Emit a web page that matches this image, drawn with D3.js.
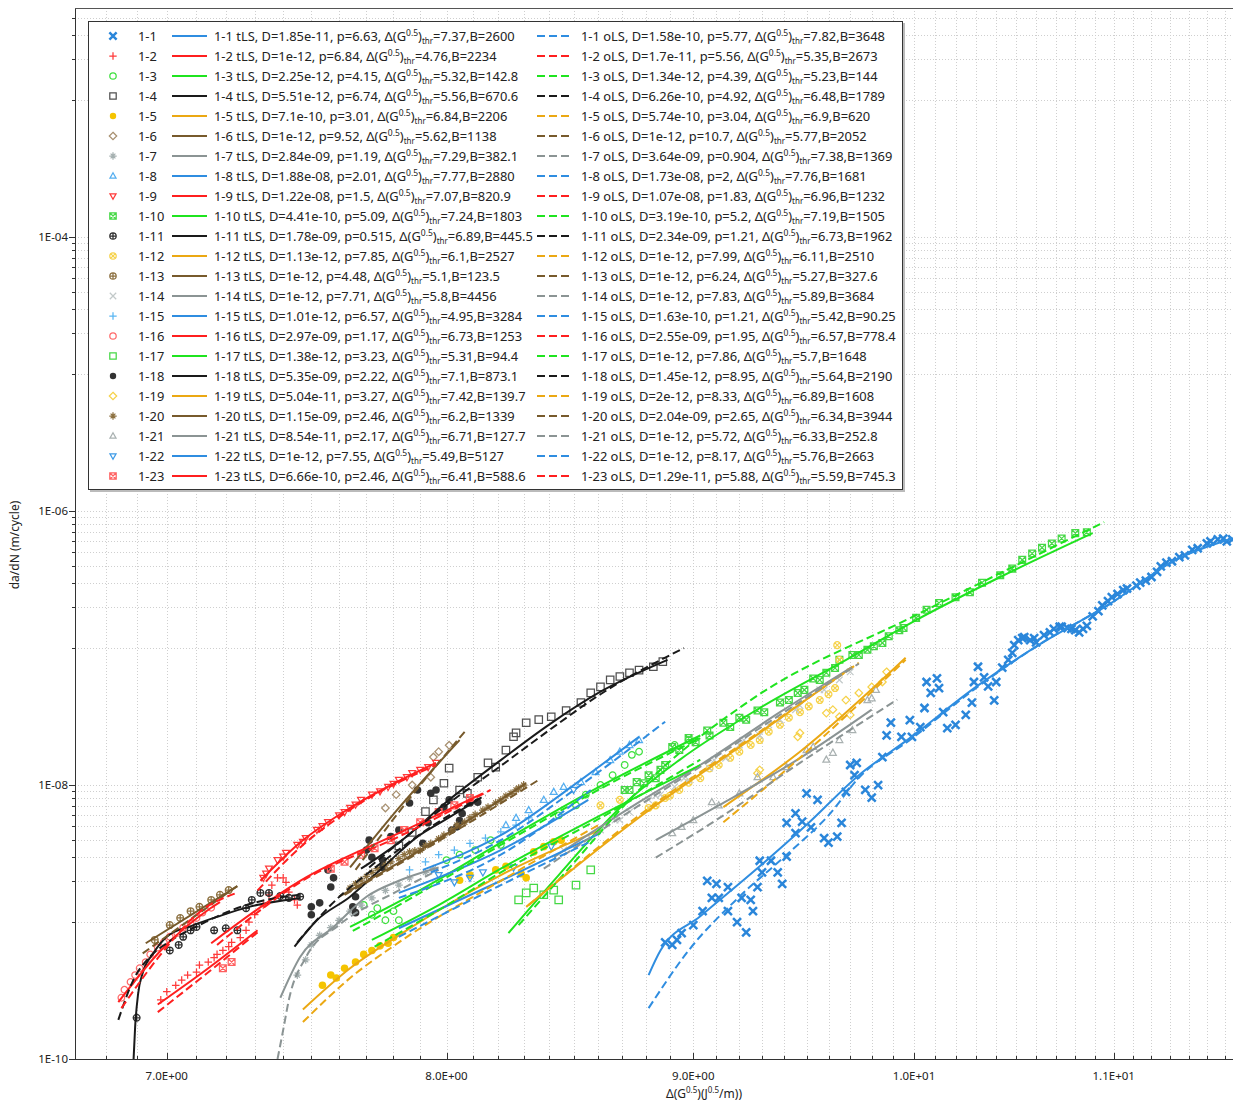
<!DOCTYPE html>
<html>
<head>
<meta charset="utf-8">
<script src="https://cdn.jsdelivr.net/npm/d3@7"></script>
<style>
  body { margin: 0; background: #fff; }
  svg { display: block; font-family: "Noto Sans", "Open Sans", sans-serif; }
</style>
</head>
<body>
<svg id="chart" width="1233" height="1103"></svg>
<script>
// Series names and fit parameters (as printed in the legend)
const seriesNames = ['1-1','1-2','1-3','1-4','1-5','1-6','1-7','1-8','1-9','1-10','1-11','1-12',
  '1-13','1-14','1-15','1-16','1-17','1-18','1-19','1-20','1-21','1-22','1-23'];

const tlsD = ['1.85e-11','1e-12','2.25e-12','5.51e-12','7.1e-10','1e-12','2.84e-09','1.88e-08','1.22e-08','4.41e-10','1.78e-09','1.13e-12',
  '1e-12','1e-12','1.01e-12','2.97e-09','1.38e-12','5.35e-09','5.04e-11','1.15e-09','8.54e-11','1e-12','6.66e-10'];
const tlsP = ['6.63','6.84','4.15','6.74','3.01','9.52','1.19','2.01','1.5','5.09','0.515','7.85',
  '4.48','7.71','6.57','1.17','3.23','2.22','3.27','2.46','2.17','7.55','2.46'];
const tlsThr = ['7.37','4.76','5.32','5.56','6.84','5.62','7.29','7.77','7.07','7.24','6.89','6.1',
  '5.1','5.8','4.95','6.73','5.31','7.1','7.42','6.2','6.71','5.49','6.41'];
const tlsB = ['2600','2234','142.8','670.6','2206','1138','382.1','2880','820.9','1803','445.5','2527',
  '123.5','4456','3284','1253','94.4','873.1','139.7','1339','127.7','5127','588.6'];

const olsD = ['1.58e-10','1.7e-11','1.34e-12','6.26e-10','5.74e-10','1e-12','3.64e-09','1.73e-08','1.07e-08','3.19e-10','2.34e-09','1e-12',
  '1e-12','1e-12','1.63e-10','2.55e-09','1e-12','1.45e-12','2e-12','2.04e-09','1e-12','1e-12','1.29e-11'];
const olsP = ['5.77','5.56','4.39','4.92','3.04','10.7','0.904','2','1.83','5.2','1.21','7.99',
  '6.24','7.83','1.21','1.95','7.86','8.95','8.33','2.65','5.72','8.17','5.88'];
const olsThr = ['7.82','5.35','5.23','6.48','6.9','5.77','7.38','7.76','6.96','7.19','6.73','6.11',
  '5.27','5.89','5.42','6.57','5.7','5.64','6.89','6.34','6.33','5.76','5.59'];
const olsB = ['3648','2673','144','1789','620','2052','1369','1681','1232','1505','1962','2510',
  '327.6','3684','90.25','778.4','1648','2190','1608','3944','252.8','2663','745.3'];

// Measured points [dG^0.5, da/dN] and fitted curves (tLS solid, oLS dashed)
const p01 = [[8.88,7.1e-10],[8.91,6.8e-10],[8.93,7.4e-10],[8.95,8.3e-10],[9.00,9.5e-10],[9.04,1.2e-9],[9.06,2.0e-9],[9.10,1.9e-9],[9.08,1.5e-9],[9.11,1.5e-9],[9.15,1.8e-9],[9.15,1.2e-9],[9.19,1.0e-9],[9.23,8.4e-10],[9.21,1.5e-9],[9.25,1.45e-9],[9.26,1.2e-9],[9.28,1.8e-9],[9.30,2.3e-9],[9.29,2.8e-9],[9.34,2.8e-9],[9.37,2.3e-9],[9.39,1.9e-9],[9.41,3.0e-9],[9.41,5.3e-9],[9.45,6.2e-9],[9.48,5.4e-9],[9.45,4.45e-9],[9.52,4.9e-9],[9.50,8.7e-9],[9.55,7.8e-9],[9.58,4.1e-9],[9.60,3.8e-9],[9.64,4.2e-9],[9.66,5.3e-9],[9.68,8.9e-9],[9.70,1.4e-8],[9.73,1.45e-8],[9.72,1.18e-8],[9.77,9.2e-9],[9.80,8.1e-9],[9.83,1.0e-8],[9.85,1.6e-8],[9.87,2.3e-8],[9.89,2.85e-8],[9.94,2.25e-8],[9.98,2.98e-8],[9.99,2.25e-8],[10.03,2.65e-8],[10.05,3.65e-8],[10.06,5.65e-8],[10.11,6.0e-8],[10.08,4.7e-8],[10.12,5.1e-8],[10.14,3.4e-8],[10.16,2.6e-8],[10.20,2.75e-8],[10.25,3.25e-8],[10.28,4.0e-8],[10.29,5.65e-8],[10.31,7.3e-8],[10.34,6.1e-8],[10.36,5.25e-8],[10.39,4.15e-8],[10.40,5.65e-8],[10.43,7.2e-8],[10.46,8.2e-8],[10.48,9.2e-8],[10.49,1.05e-7],[10.51,1.14e-7],[10.53,1.18e-7],[10.54,1.2e-7],[10.57,1.14e-7],[10.59,1.18e-7],[10.60,1.1e-7],[10.64,1.24e-7],[10.67,1.3e-7],[10.69,1.38e-7],[10.72,1.43e-7],[10.73,1.43e-7],[10.76,1.4e-7],[10.78,1.38e-7],[10.80,1.35e-7],[10.82,1.3e-7],[10.84,1.38e-7],[10.86,1.45e-7],[10.89,1.7e-7],[10.92,1.86e-7],[10.94,2.05e-7],[10.97,2.2e-7],[10.99,2.35e-7],[11.02,2.48e-7],[11.05,2.65e-7],[11.07,2.72e-7],[11.12,2.85e-7],[11.14,3.0e-7],[11.17,3.1e-7],[11.20,3.3e-7],[11.23,3.6e-7],[11.25,3.95e-7],[11.28,4.2e-7],[11.31,4.3e-7],[11.35,4.6e-7],[11.38,4.75e-7],[11.42,5.2e-7],[11.45,5.35e-7],[11.50,5.8e-7],[11.52,6.0e-7],[11.56,6.2e-7],[11.59,6.3e-7],[11.61,6.0e-7],[11.64,6.2e-7]];
const t01 = [[8.81,4.1e-10],[8.86,6.2e-10],[9.03,1.1e-9],[9.29,2.55e-9],[9.51,5.3e-9],[9.74,1.18e-8],[9.98,2.2e-8],[10.30,5.2e-8],[10.63,1.09e-7],[10.98,2.1e-7],[11.33,4.4e-7],[11.64,6.3e-7]];
const o01 = [[8.81,2.35e-10],[8.98,6.2e-10],[9.20,1.53e-9],[9.42,3.2e-9],[9.60,6.0e-9],[9.74,1.13e-8],[9.98,2.13e-8],[10.30,5.1e-8],[10.63,1.09e-7],[10.98,2.1e-7],[11.33,4.4e-7],[11.64,6.4e-7]];

const p02 = [[6.98,2.7e-10],[7.00,3.1e-10],[7.03,3.45e-10],[7.05,3.77e-10],[7.07,4.1e-10],[7.10,4.3e-10],[7.11,4.85e-10],[7.14,5.1e-10],[7.16,5.5e-10],[7.17,5.8e-10],[7.19,6.2e-10],[7.21,6.6e-10],[7.22,7.1e-10],[7.25,7.7e-10],[7.27,8.7e-10],[7.28,1.0e-9],[7.30,1.13e-9],[7.33,1.33e-9],[7.35,1.58e-9],[7.36,1.86e-9],[7.38,2.1e-9],[7.40,2.1e-9],[7.41,1.95e-9],[7.42,1.65e-9],[7.44,1.45e-9],[7.45,1.33e-9]];
const t02 = [[6.97,2.5e-10],[7.14,4.6e-10],[7.31,8.7e-10]];
const o02 = [[6.97,2.2e-10],[7.14,4.3e-10],[7.31,8.4e-10]];

const p03 = [[7.69,1.33e-9],[7.72,1.13e-9],[7.74,1.26e-9],[7.77,1.03e-9],[7.80,1.2e-9],[7.82,1.03e-9],[8.00,2.83e-9],[8.05,3.1e-9],[8.11,3.35e-9],[8.17,3.96e-9],[8.21,3.65e-9],[8.44,6.0e-9],[8.51,7.1e-9],[8.55,8.5e-9],[8.61,1.0e-8],[8.66,1.18e-8],[8.71,1.4e-8],[8.74,1.66e-8],[8.77,1.75e-8],[8.92,1.96e-8],[8.98,2.13e-8]];
const t03 = [[7.64,9.2e-10],[7.90,1.71e-9],[8.21,3.8e-9],[8.61,9.8e-9],[9.03,2.3e-8]];
const o03 = [[7.65,8.6e-10],[7.90,1.63e-9],[8.21,3.65e-9],[8.61,9.4e-9],[9.03,2.2e-8]];

const p04 = [[7.82,3.6e-9],[7.87,4.5e-9],[7.92,6.4e-9],[7.95,7.8e-9],[7.99,1.03e-8],[8.01,1.33e-8],[8.05,9.2e-9],[8.08,8.7e-9],[8.12,1.14e-8],[8.16,1.45e-8],[8.19,1.35e-8],[8.23,1.8e-8],[8.26,2.25e-8],[8.27,2.4e-8],[8.31,2.85e-8],[8.36,3.0e-8],[8.41,3.15e-8],[8.47,3.5e-8],[8.53,4.0e-8],[8.57,4.7e-8],[8.61,5.2e-8],[8.65,5.85e-8],[8.69,6.2e-8],[8.73,6.6e-8],[8.77,6.9e-8],[8.83,7.3e-8],[8.87,7.95e-8]];
const t04 = [[7.68,2.45e-9],[7.82,3.8e-9],[8.01,7.8e-9],[8.21,1.52e-8],[8.40,2.75e-8],[8.61,4.8e-8],[8.89,8.2e-8]];
const o04 = [[7.71,2.5e-9],[8.01,7.4e-9],[8.21,1.38e-8],[8.40,2.5e-8],[8.61,4.6e-8],[8.96,1.0e-7]];

const p05 = [[7.54,3.45e-10],[7.57,4.1e-10],[7.59,3.9e-10],[7.62,4.6e-10],[7.66,5.1e-10],[7.69,5.8e-10],[7.72,6.2e-10],[7.75,6.7e-10],[7.78,7.0e-10],[7.80,7.7e-10],[8.05,2.02e-9],[8.09,2.2e-9],[8.19,2.4e-9],[8.23,2.55e-9],[8.29,2.25e-9],[8.31,2.1e-9],[8.34,3.25e-9],[8.38,3.55e-9],[8.42,3.85e-9],[8.45,3.96e-9]];
const t05 = [[7.47,2.3e-10],[7.64,4.6e-10],[7.82,8.0e-10],[8.21,2.2e-9],[8.61,4.7e-9]];
const o05 = [[7.47,1.86e-10],[7.64,3.9e-10],[7.82,7.1e-10],[8.21,2.0e-9],[8.61,5.2e-9]];

const p06 = [[7.77,6.8e-9],[7.81,8.5e-9],[7.87,1.0e-8],[7.94,1.14e-8],[7.95,1.6e-8],[7.97,1.75e-8],[8.01,1.95e-8]];
const t06 = [[7.64,2.5e-9],[7.82,6.8e-9],[8.05,2.13e-8]];
const o06 = [[7.66,2.4e-9],[7.82,6.35e-9],[8.07,2.45e-8]];

const p07 = [[7.45,4.1e-10],[7.48,5.3e-10],[7.50,6.8e-10],[7.53,8.0e-10],[7.57,9.1e-10],[7.60,1.03e-9],[7.64,1.2e-9],[7.68,1.33e-9],[7.72,1.5e-9],[7.77,1.7e-9],[7.82,1.86e-9],[7.86,2.1e-9],[7.92,2.3e-9],[7.95,2.45e-9]];
const t07 = [[7.39,2.8e-10],[7.46,5.55e-10],[7.58,9.2e-10],[7.70,1.53e-9],[7.82,2.0e-9],[7.97,2.5e-9]];
const o07 = [[7.38,1.0e-10],[7.40,1.63e-10],[7.42,2.7e-10],[7.48,5.5e-10],[7.60,9.5e-10],[7.82,1.7e-9],[7.97,2.4e-9]];

const p08 = [[8.23,5.1e-9],[8.27,5.75e-9],[8.32,6.55e-9],[8.38,7.8e-9],[8.42,8.9e-9],[8.46,9.7e-9],[8.53,1.05e-8],[8.59,1.24e-8],[8.65,1.52e-8],[8.69,1.75e-8],[8.73,1.96e-8],[8.77,2.13e-8]];
const t08 = [[7.91,2.4e-9],[8.21,4.3e-9],[8.53,1.09e-8],[8.77,2.25e-8]];
const o08 = [[7.94,2.3e-9],[8.21,3.96e-9],[8.53,1.0e-8],[8.88,2.9e-8]];

const p09 = [[7.33,2.1e-9],[7.34,2.25e-9],[7.35,2.45e-9],[7.38,2.83e-9],[7.40,3.0e-9],[7.41,3.2e-9],[7.45,3.65e-9],[7.47,3.85e-9],[7.48,4.1e-9],[7.52,4.7e-9],[7.54,5.0e-9],[7.56,5.35e-9],[7.60,6.0e-9],[7.62,6.35e-9],[7.64,6.8e-9],[7.66,7.2e-9],[7.68,7.8e-9],[7.72,8.5e-9],[7.75,9.0e-9],[7.78,9.7e-9],[7.80,1.02e-8],[7.82,1.09e-8],[7.85,1.14e-8],[7.87,1.22e-8],[7.90,1.29e-8],[7.93,1.35e-8],[7.96,1.45e-8]];
const t09 = [[7.32,2.0e-9],[7.46,3.8e-9],[7.64,6.8e-9],[7.82,1.07e-8],[7.96,1.45e-8]];
const o09 = [[7.31,1.7e-9],[7.46,3.5e-9],[7.64,6.6e-9],[7.96,1.4e-8]];

const p10 = [[8.71,9.2e-9],[8.73,9.2e-9],[8.76,1.05e-8],[8.79,1.03e-8],[8.81,1.18e-8],[8.84,1.12e-8],[8.86,1.29e-8],[8.88,1.4e-8],[8.91,1.89e-8],[8.94,1.8e-8],[8.98,2.2e-8],[9.01,2.05e-8],[9.06,2.5e-8],[9.07,2.3e-8],[9.13,2.85e-8],[9.16,2.65e-8],[9.20,3.1e-8],[9.23,3.0e-8],[9.28,3.5e-8],[9.31,3.4e-8],[9.38,4.0e-8],[9.42,4.17e-8],[9.46,4.7e-8],[9.49,4.95e-8],[9.53,6.0e-8],[9.56,5.85e-8],[9.59,6.6e-8],[9.63,7.15e-8],[9.65,8.2e-8],[9.71,8.9e-8],[9.74,8.9e-8],[9.78,9.7e-8],[9.81,1.03e-7],[9.85,1.09e-7],[9.88,1.22e-7],[9.93,1.35e-7],[9.95,1.4e-7],[10.01,1.66e-7],[10.06,1.9e-7],[10.12,2.13e-7],[10.20,2.35e-7],[10.27,2.55e-7],[10.33,3.0e-7],[10.42,3.4e-7],[10.48,3.8e-7],[10.53,4.4e-7],[10.58,4.9e-7],[10.63,5.4e-7],[10.68,5.8e-7],[10.73,6.3e-7],[10.80,6.9e-7],[10.86,7.0e-7]];
const t10 = [[8.24,8.3e-10],[8.44,2.2e-9],[8.69,6.8e-9],[8.94,1.52e-8],[9.29,3.65e-8],[9.65,7.7e-8],[10.01,1.6e-7],[10.42,3.3e-7],[10.89,6.9e-7]];
const o10 = [[8.28,9.5e-10],[8.48,2.45e-9],[8.77,9.2e-9],[9.25,4.17e-8],[10.01,1.74e-7],[10.95,8.3e-7]];

const p11 = [[6.90,2.0e-10],[7.01,6.2e-10],[7.04,6.8e-10],[7.055,7.8e-10],[7.08,8.7e-10],[7.10,9.2e-10],[7.16,8.7e-10],[7.20,9.0e-10],[7.24,8.7e-10],[7.27,1.26e-9],[7.29,1.45e-9],[7.32,1.63e-9],[7.35,1.63e-9],[7.39,1.55e-9],[7.42,1.5e-9],[7.46,1.53e-9]];
const t11 = [[6.89,1.0e-10],[6.895,1.7e-10],[6.905,3.0e-10],[6.92,4.25e-10],[6.955,5.9e-10],[7.00,7.8e-10],[7.09,9.5e-10],[7.17,1.09e-9],[7.28,1.29e-9],[7.46,1.5e-9]];
const o11 = [[6.84,1.93e-10],[6.89,3.8e-10],[6.945,5.6e-10],[7.00,7.0e-10],[7.11,9.5e-10],[7.22,1.22e-9],[7.34,1.45e-9],[7.46,1.58e-9]];

const p12 = [[8.61,7.1e-9],[8.69,7.8e-9],[8.81,6.8e-9],[8.84,7.1e-9],[8.88,8.05e-9],[8.90,8.35e-9],[8.94,9.2e-9],[8.98,1.04e-8],[9.03,1.12e-8],[9.07,1.32e-8],[9.11,1.4e-8],[9.16,1.58e-8],[9.20,1.75e-8],[9.25,1.96e-8],[9.29,2.13e-8],[9.33,2.45e-8],[9.38,2.75e-8],[9.42,3.1e-8],[9.47,3.4e-8],[9.51,3.75e-8],[9.56,4.17e-8],[9.60,4.6e-8],[9.63,5.1e-8],[9.64,1.05e-7],[9.65,8.2e-8]];
const t12 = [[8.31,1.29e-9],[8.77,5.8e-9],[9.29,2.4e-8],[9.71,7.3e-8]];
const o12 = [[8.32,1.33e-9],[8.77,6.0e-9],[9.29,2.45e-8],[9.74,7.8e-8]];

const p13 = [[6.96,7.4e-10],[7.01,9.5e-10],[7.045,1.07e-9],[7.08,1.2e-9],[7.11,1.29e-9],[7.15,1.45e-9],[7.18,1.58e-9],[7.21,1.71e-9]];
const t13 = [[6.93,7.0e-10],[7.24,1.83e-9]];
const o13 = [[6.92,5.9e-10],[7.25,1.9e-9]];

const p14 = [[8.46,3.35e-9],[8.53,3.75e-9],[8.57,4.1e-9],[8.61,4.7e-9],[8.67,5.55e-9],[8.69,5.55e-9],[8.73,6.35e-9],[8.81,7.8e-9],[8.84,8.35e-9],[8.86,8.5e-9],[8.92,9.7e-9],[8.96,1.12e-8],[8.98,1.09e-8],[9.07,1.33e-8],[9.09,1.52e-8],[9.14,1.57e-8],[9.20,1.96e-8],[9.22,2.13e-8],[9.29,2.3e-8],[9.33,2.75e-8],[9.38,3.0e-8],[9.45,3.55e-8],[9.47,3.8e-8],[9.56,4.95e-8],[9.58,4.95e-8],[9.65,5.85e-8],[9.70,6.7e-8]];
const t14 = [[8.42,2.97e-9],[8.77,7.5e-9],[9.03,1.4e-8],[9.38,3.4e-8],[9.71,7.3e-8]];
const o14 = [[8.38,2.45e-9],[8.77,7.1e-9],[9.03,1.36e-8],[9.38,3.25e-8],[9.74,7.7e-8]];

const p15 = [[7.86,2.4e-9],[7.92,2.75e-9],[7.97,3.1e-9],[8.03,3.35e-9],[8.09,3.75e-9],[8.15,4.1e-9],[8.21,4.55e-9],[8.27,5.1e-9],[8.32,5.75e-9]];
const t15 = [[7.82,1.63e-9],[8.21,3.35e-9],[8.56,7.8e-9]];
const o15 = [[7.82,1.5e-9],[8.21,3.1e-9],[8.57,9.2e-9]];

const p16 = [[6.85,2.8e-10],[6.86,3.2e-10],[6.88,3.65e-10],[6.895,4.1e-10],[6.91,4.6e-10],[6.93,5.1e-10],[6.945,5.8e-10],[6.97,6.5e-10],[6.99,7.1e-10],[7.01,7.8e-10],[7.035,8.3e-10],[7.055,9.1e-10],[7.08,9.8e-10],[7.10,1.07e-9],[7.12,1.17e-9],[7.15,1.27e-9]];
const t16 = [[6.84,2.6e-10],[6.98,6.2e-10],[7.15,1.27e-9],[7.18,1.4e-9]];
const o16 = [[6.85,2.35e-10],[6.98,5.8e-10],[7.11,1.18e-9],[7.24,1.64e-9]];

const p17 = [[8.28,1.45e-9],[8.31,1.63e-9],[8.34,1.77e-9],[8.38,1.58e-9],[8.42,1.71e-9],[8.44,1.45e-9],[8.51,1.86e-9],[8.57,2.4e-9]];
const t17 = [[7.72,7.4e-10],[7.97,1.33e-9],[8.21,2.45e-9],[8.61,6.0e-9],[9.03,1.4e-8]];
const o17 = [[7.73,6.6e-10],[7.97,1.22e-9],[8.21,2.3e-9],[8.61,5.75e-9],[9.03,1.53e-8]];

const p18 = [[7.50,1.29e-9],[7.50,1.13e-9],[7.53,1.38e-9],[7.56,2.4e-9],[7.57,1.8e-9],[7.58,2.1e-9],[7.65,1.29e-9],[7.66,1.17e-9],[7.66,1.53e-9],[7.70,3.35e-9],[7.71,3.96e-9],[7.72,2.97e-9],[7.76,2.5e-9],[7.76,2.83e-9],[7.79,4.2e-9],[7.82,4.7e-9],[7.86,7.4e-9],[7.89,9.2e-9],[7.91,3.75e-9],[7.93,5.3e-9],[7.94,8.7e-9],[7.96,9.2e-9],[7.99,6.9e-9],[8.01,7.8e-9],[8.02,4.7e-9],[8.04,4.95e-9],[8.05,5.5e-9],[8.06,6.2e-9],[8.09,7.4e-9],[8.12,7.5e-9]];
const t18 = [[7.44,6.6e-10],[7.52,1.03e-9],[7.64,1.53e-9],[7.76,2.5e-9],[7.89,4.2e-9],[8.01,5.8e-9],[8.12,7.8e-9]];
const o18 = [[7.45,7.1e-10],[7.57,1.33e-9],[7.76,2.75e-9],[8.01,6.0e-9],[8.15,8.4e-9]];

const p19 = [[9.28,1.22e-8],[9.29,1.29e-8],[9.46,2.25e-8],[9.47,2.4e-8],[9.59,3.35e-8],[9.62,3.55e-8],[9.65,3.15e-8],[9.68,4.17e-8],[9.70,3.25e-8],[9.74,4.7e-8],[9.80,5.2e-8],[9.85,5.65e-8],[9.87,6.7e-8]];
const t19 = [[9.13,6.9e-9],[9.47,1.75e-8],[9.96,8.5e-8]];
const o19 = [[9.13,5.35e-9],[9.38,1.18e-8],[9.96,8.2e-8]];

const p20 = [[7.64,1.77e-9],[7.66,1.9e-9],[7.68,2.02e-9],[7.70,2.15e-9],[7.72,2.3e-9],[7.74,2.45e-9],[7.77,2.6e-9],[7.79,2.75e-9],[7.82,2.9e-9],[7.84,3.1e-9],[7.86,3.25e-9],[7.88,3.3e-9],[7.90,3.35e-9],[7.92,3.6e-9],[7.94,3.75e-9],[7.97,4.05e-9],[7.99,4.3e-9],[8.02,4.7e-9],[8.04,5.1e-9],[8.07,5.35e-9],[8.09,5.75e-9],[8.11,6.1e-9],[8.14,6.55e-9],[8.16,6.9e-9],[8.19,7.4e-9],[8.21,7.8e-9],[8.23,8.3e-9],[8.25,8.7e-9],[8.27,9.2e-9],[8.28,9.5e-9],[8.30,1.0e-8]];
const t20 = [[7.60,1.53e-9],[7.90,3.35e-9],[8.31,1.03e-8]];
const o20 = [[7.62,1.58e-9],[7.90,3.25e-9],[8.36,1.09e-8]];

const p21 = [[8.91,4.45e-9],[8.95,4.95e-9],[9.00,5.55e-9],[9.08,7.5e-9],[9.11,7.1e-9],[9.20,8.7e-9],[9.28,1.14e-8],[9.35,1.14e-8],[9.41,1.35e-8],[9.50,1.8e-8],[9.53,1.9e-8],[9.59,1.53e-8],[9.62,1.72e-8],[9.65,2.13e-8],[9.71,2.52e-8],[9.78,4.17e-8],[9.80,4.3e-8],[9.82,4.95e-8]];
const t21 = [[8.84,3.96e-9],[9.11,7.1e-9],[9.47,1.57e-8],[9.80,3.55e-8]];
const o21 = [[8.84,2.95e-9],[9.11,5.7e-9],[9.47,1.45e-8],[9.92,4.2e-8]];

const p22 = [[7.97,2.2e-9],[8.03,1.95e-9],[8.09,2.1e-9],[8.14,2.3e-9],[8.26,2.5e-9],[8.41,3.55e-9],[8.50,9.2e-9]];
const t22 = [[7.82,9.0e-10],[8.21,2.0e-9],[8.61,4.45e-9]];
const o22 = [[7.82,7.8e-10],[8.21,1.86e-9],[8.56,3.8e-9]];

const p23 = [[7.19,4.6e-10],[7.22,5.1e-10],[7.57,2.45e-9],[7.62,2.75e-9],[7.68,3.1e-9],[7.73,3.45e-9],[7.79,3.96e-9],[7.84,4.7e-9],[7.90,5.35e-9],[7.97,6.35e-9],[8.03,7.1e-9],[8.09,8.05e-9]];
const t23 = [[7.15,7.0e-10],[7.46,2.0e-9],[7.82,4.45e-9],[8.14,8.7e-9]];
const o23 = [[7.17,6.8e-10],[7.46,1.95e-9],[7.82,4.2e-9],[8.17,9.2e-9]];

const pointSets = [p01,p02,p03,p04,p05,p06,p07,p08,p09,p10,p11,p12,p13,p14,p15,p16,p17,p18,p19,p20,p21,p22,p23];
const tlsSets = [t01,t02,t03,t04,t05,t06,t07,t08,t09,t10,t11,t12,t13,t14,t15,t16,t17,t18,t19,t20,t21,t22,t23];
const olsSets = [o01,o02,o03,o04,o05,o06,o07,o08,o09,o10,o11,o12,o13,o14,o15,o16,o17,o18,o19,o20,o21,o22,o23];

// Axis ticks
const xMajorTicks = [7, 8, 9, 10, 11];
const xTickLabels = ['7.0E+00', '8.0E+00', '9.0E+00', '1.0E+01', '1.1E+01'];
const yMajorTicks = [1e-10, 1e-8, 1e-6, 1e-4];
const yTickLabels = ['1E-10', '1E-08', '1E-06', '1E-04'];

// Styles
const lineColors = ['#2f8de0', '#ff1f1f', '#1fe41f', '#1a1a1a', '#eba813', '#775a2c', '#8b9494'];
const markerShapes = ['x','plus','circle','square','dot','diamond','asterisk','triUp','triDown','squareX','circlePlus','circleX',
  'circlePlus','x','plus','circle','square','dot','diamond','asterisk','triUp','triDown','squareX'];
const markerColors = ['#2a86da','#ff3a3a','#3fe03f','#505050','#f5c400','#a89070','#a5b0b0','#54aef0','#ff3a3a','#45d845','#2e2e2e','#f6d24a',
  '#8c7040','#c2c9c9','#5ab6f2','#ff6a6a','#45d845','#333333','#f6d24a','#8c7040','#a9b1b1','#3f9be6','#ff6060'];
const markerRadius = { x: 3.3, plus: 3.3, circle: 3.3, dot: 3.8, square: 3.7, diamond: 3.3, asterisk: 3.4,
  triUp: 3.6, triDown: 3.6, squareX: 3.4, circlePlus: 3.4, circleX: 3.4 };

const plot = { left: 75, right: 1234, top: 8, bottom: 1059 };
const x = d3.scaleLog().domain([6.7, 11.65]).range([plot.left, plot.right]);
const y = d3.scaleLog().domain([1e-10, 4.7e-3]).range([plot.bottom, plot.top]);

const svg = d3.select('#chart');

// Grid lines
const xMinor = d3.range(68, 117).map(v => v / 10);
const yMinor = [];
[-9, -7, -5, -3].forEach(e => { for (let k = 1; k <= 9; k++) yMinor.push(k * Math.pow(10, e)); });
const yGridVals = yMinor.concat(yMajorTicks).filter(v => v <= 4.7e-3 && v > 1e-10);

const grid = svg.append('g').attr('stroke', '#cfcfcf').attr('stroke-dasharray', '1,2').attr('stroke-width', 1);
xMinor.forEach(v => {
  grid.append('line').attr('x1', Math.round(x(v)) + 0.5).attr('x2', Math.round(x(v)) + 0.5)
    .attr('y1', plot.top).attr('y2', plot.bottom);
});
yGridVals.forEach(v => {
  grid.append('line').attr('y1', Math.round(y(v)) + 0.5).attr('y2', Math.round(y(v)) + 0.5)
    .attr('x1', plot.left).attr('x2', plot.right);
});

// Clip
svg.append('clipPath').attr('id', 'clip').append('rect')
  .attr('x', plot.left).attr('y', plot.top).attr('width', plot.right - plot.left).attr('height', plot.bottom - plot.top);

// Marker paths
function markerPath(shape, r) {
  const circ = `M${r},0A${r},${r} 0 1,1 ${-r},0A${r},${r} 0 1,1 ${r},0Z`;
  const sq = `M${-r},${-r}H${r}V${r}H${-r}Z`;
  const cross = `M${-r},${-r}L${r},${r}M${-r},${r}L${r},${-r}`;
  const plus = `M${-r - 0.5},0H${r + 0.5}M0,${-r - 0.5}V${r + 0.5}`;
  const h = r * 0.75;
  switch (shape) {
    case 'x': return cross;
    case 'plus': return plus;
    case 'circle': return circ;
    case 'dot': return circ;
    case 'square': return sq;
    case 'diamond': return `M0,${-r - 0.5}L${r + 0.5},0L0,${r + 0.5}L${-r - 0.5},0Z`;
    case 'asterisk': return plus + `M${-h},${-h}L${h},${h}M${-h},${h}L${h},${-h}`;
    case 'triUp': return `M0,${-r}L${r * 0.95},${r * 0.7}L${-r * 0.95},${r * 0.7}Z`;
    case 'triDown': return `M0,${r}L${r * 0.95},${-r * 0.7}L${-r * 0.95},${-r * 0.7}Z`;
    case 'squareX': return sq + cross;
    case 'circlePlus': return circ + `M${-r},0H${r}M0,${-r}V${r}`;
    case 'circleX': return circ + `M${-h},${-h}L${h},${h}M${-h},${h}L${h},${-h}`;
  }
  return circ;
}

function drawMarker(g, shape, color, cx, cy, r, big) {
  const p = g.append('path').attr('d', markerPath(shape, r)).attr('transform', `translate(${cx},${cy})`);
  if (shape === 'dot') {
    p.attr('fill', color).attr('stroke', 'none');
  } else {
    p.attr('fill', 'none').attr('stroke', color).attr('stroke-width', big ? 2.5 : 1.25);
  }
  return p;
}

const dataG = svg.append('g').attr('clip-path', 'url(#clip)');

// scatter points
pointSets.forEach((pts, i) => {
  const g = dataG.append('g').attr('class', 'pts-' + seriesNames[i]);
  const r = i === 0 ? 4 : markerRadius[markerShapes[i]];
  pts.forEach(d => {
    drawMarker(g, markerShapes[i], markerColors[i], x(d[0]), y(d[1]), r, i === 0);
  });
});

const line = d3.line().x(d => x(d[0])).y(d => y(d[1])).curve(d3.curveMonotoneX);

// fitted curves
tlsSets.forEach((pts, i) => {
  dataG.append('path').attr('d', line(pts)).attr('fill', 'none')
    .attr('stroke', lineColors[i % 7]).attr('stroke-width', 2);
});
olsSets.forEach((pts, i) => {
  dataG.append('path').attr('d', line(pts)).attr('fill', 'none')
    .attr('stroke', lineColors[i % 7]).attr('stroke-width', 2).attr('stroke-dasharray', '8,4');
});

// Axes
const axisG = svg.append('g').attr('stroke', '#333').attr('stroke-width', 1);
axisG.append('line').attr('x1', plot.left + 0.5).attr('x2', plot.left + 0.5).attr('y1', plot.top).attr('y2', plot.bottom);
axisG.append('line').attr('x1', plot.left).attr('x2', plot.right).attr('y1', plot.bottom + 0.5).attr('y2', plot.bottom + 0.5);
axisG.append('line').attr('x1', plot.left).attr('x2', plot.right).attr('y1', plot.top + 0.5).attr('y2', plot.top + 0.5).attr('stroke', '#555');

xMinor.forEach(v => {
  const major = xMajorTicks.some(m => Math.abs(m - v) < 1e-6);
  const px = Math.round(x(v)) + 0.5;
  axisG.append('line').attr('x1', px).attr('x2', px).attr('y1', plot.bottom).attr('y2', plot.bottom - (major ? 6 : 3));
});
yGridVals.concat([1e-10]).forEach(v => {
  const major = yMajorTicks.includes(v);
  const py = Math.round(y(v)) + 0.5;
  axisG.append('line').attr('y1', py).attr('y2', py).attr('x1', plot.left).attr('x2', plot.left - (major ? 6 : 3));
});

const labelG = svg.append('g').attr('font-size', 11.5).attr('fill', '#222');
xMajorTicks.forEach((v, i) => {
  labelG.append('text').attr('x', x(v)).attr('y', 1080).attr('text-anchor', 'middle').text(xTickLabels[i]);
});
yMajorTicks.forEach((v, i) => {
  labelG.append('text').attr('x', 68).attr('y', y(v) + 4).attr('text-anchor', 'end').text(yTickLabels[i]);
});

// Axis titles
const xt = svg.append('text').attr('x', 704).attr('y', 1098).attr('text-anchor', 'middle').attr('font-size', 12).attr('fill', '#222');
xt.append('tspan').text('Δ(G');
xt.append('tspan').attr('font-size', 8).attr('dy', -5).text('0.5');
xt.append('tspan').attr('dy', 5).text(')(J');
xt.append('tspan').attr('font-size', 8).attr('dy', -5).text('0.5');
xt.append('tspan').attr('dy', 5).text('/m))');

svg.append('text').attr('transform', 'translate(19,545) rotate(-90)').attr('text-anchor', 'middle')
  .attr('font-size', 12).attr('fill', '#222').text('da/dN (m/cycle)');

// Legend
const leg = svg.append('g');
leg.append('rect').attr('x', 90).attr('y', 23).attr('width', 815).attr('height', 469).attr('fill', '#bbb');
leg.append('rect').attr('x', 88.5).attr('y', 21.5).attr('width', 814).attr('height', 468)
  .attr('fill', '#fff').attr('stroke', '#333').attr('stroke-width', 1);

function fitText(g, tx, ty, name, kind, D, p, thr, B) {
  const t = g.append('text').attr('x', tx).attr('y', ty).attr('font-size', 12.9).attr('fill', '#222');
  t.append('tspan').text(`${name} ${kind}, D=${D}, p=${p}, Δ(G`);
  t.append('tspan').attr('font-size', 8.5).attr('dy', -5).text('0.5');
  t.append('tspan').attr('dy', 5).text(')');
  t.append('tspan').attr('font-size', 8).attr('dy', 3).text('thr');
  t.append('tspan').attr('dy', -3).text(`=${thr},B=${B}`);
}

seriesNames.forEach((name, i) => {
  const cy = 36 + 20 * i;
  const g = leg.append('g');
  drawMarker(g, markerShapes[i], markerColors[i], 113, cy, i === 0 ? 3.6 : 3.2, i === 0);
  g.append('text').attr('x', 138).attr('y', cy + 4.5).attr('font-size', 12.9).attr('fill', '#222').text(name);
  g.append('line').attr('x1', 172).attr('x2', 207).attr('y1', cy).attr('y2', cy)
    .attr('stroke', lineColors[i % 7]).attr('stroke-width', 2);
  fitText(g, 214, cy + 4.5, name, 'tLS', tlsD[i], tlsP[i], tlsThr[i], tlsB[i]);
  g.append('line').attr('x1', 537).attr('x2', 573).attr('y1', cy).attr('y2', cy)
    .attr('stroke', lineColors[i % 7]).attr('stroke-width', 2).attr('stroke-dasharray', '8,4');
  fitText(g, 581, cy + 4.5, name, 'oLS', olsD[i], olsP[i], olsThr[i], olsB[i]);
});
</script>
</body>
</html>
